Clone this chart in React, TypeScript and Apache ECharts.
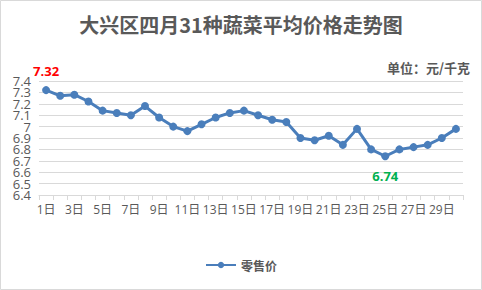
import React, { useEffect, useRef } from "react";
import * as echarts from "echarts";

const days: string[] = Array.from({ length: 30 }, (_, i) => `${i + 1}日`);
const retailPrice: number[] = [
  7.32, 7.27, 7.28, 7.22, 7.14, 7.12, 7.1, 7.18, 7.08, 7.0,
  6.96, 7.02, 7.08, 7.12, 7.14, 7.1, 7.06, 7.04, 6.9, 6.88,
  6.92, 6.84, 6.98, 6.8, 6.74, 6.8, 6.82, 6.84, 6.9, 6.98,
];
const yTicksEven: number[] = [6.4, 6.6, 6.8, 7.0, 7.2, 7.4];
const yTicksOdd: number[] = [6.5, 6.7, 6.9, 7.1, 7.3];
const yMin = 6.4;
const yMax = 7.4;
const titleText = "大兴区四月31种蔬菜平均价格走势图";
const unitText = "单位：元/千克";
const seriesName = "零售价";
const maxIndex = 0;
const minIndex = 24;

const FONT = "'Open Sans', 'Noto Sans CJK SC', sans-serif";

export default function App() {
  const ref = useRef<HTMLDivElement>(null);
  useEffect(() => {
    if (!ref.current) return;
    const chart = echarts.init(ref.current, undefined, { renderer: "svg" });
    const data = retailPrice.map((v, i) => {
      if (i === maxIndex) {
        return {
          value: v,
          label: { show: true, position: "top", distance: 9, color: "#ff0000", fontWeight: "bold", fontSize: 13, fontFamily: FONT, formatter: (p: any) => p.value.toFixed(2) },
        };
      }
      if (i === minIndex) {
        return {
          value: v,
          label: { show: true, position: "bottom", distance: 9, color: "#00b050", fontWeight: "bold", fontSize: 13, fontFamily: FONT, formatter: (p: any) => p.value.toFixed(2) },
        };
      }
      return v;
    });
    const labelBase = {
      color: "#595959",
      fontSize: 13,
      margin: 8,
      formatter: (v: number) => String(+(+v).toFixed(1)),
    };
    chart.setOption({
      animation: false,
      backgroundColor: "#ffffff",
      textStyle: { fontFamily: FONT },
      title: {
        text: titleText,
        left: "center",
        top: 9,
        textStyle: { fontSize: 20, fontWeight: "bold", color: "#595959", fontFamily: "'Noto Sans CJK SC', sans-serif" },
      },
      graphic: [
        {
          type: "rect",
          shape: { x: 0.5, y: 0.5, width: 481, height: 289 },
          style: { fill: "none", stroke: "#d9d9d9", lineWidth: 1 },
          silent: true,
        },
        {
          type: "text",
          right: 12,
          top: 61,
          style: { text: unitText, fontSize: 13, fontWeight: "bold", fill: "#595959", fontFamily: "'Noto Sans CJK SC', sans-serif" },
        },
      ],
      legend: {
        bottom: 14,
        left: "center",
        itemWidth: 30,
        itemHeight: 8,
        textStyle: { color: "#595959", fontSize: 12, fontWeight: "bold", fontFamily: "'Noto Sans CJK SC', sans-serif" },
        data: [seriesName],
      },
      grid: { left: 39, right: 19, top: 81, bottom: 95, containLabel: false },
      xAxis: {
        type: "category",
        data: days,
        boundaryGap: true,
        axisLine: { lineStyle: { color: "#d9d9d9" } },
        axisTick: { show: true, interval: 0, length: 5, lineStyle: { color: "#d9d9d9" } },
        axisLabel: { interval: 1, color: "#595959", fontSize: 12, margin: 8 },
      },
      yAxis: [
        {
          type: "value",
          position: "left",
          min: yMin,
          max: yMax,
          interval: 0.1,
          axisLine: { show: false },
          axisTick: { show: false },
          splitLine: { lineStyle: { color: "#d9d9d9" } },
          axisLabel: { ...labelBase, customValues: yTicksEven, showMinLabel: true, showMaxLabel: true },
        },
        {
          type: "value",
          position: "left",
          offset: 0,
          min: yMin,
          max: yMax,
          interval: 0.1,
          axisLine: { show: false },
          axisTick: { show: false },
          splitLine: { show: false },
          axisLabel: { ...labelBase, customValues: yTicksOdd },
        },
      ],
      series: [
        {
          name: seriesName,
          type: "line",
          yAxisIndex: 0,
          data,
          symbol: "circle",
          symbolSize: 8,
          lineStyle: { color: "#4a7ebb", width: 3 },
          itemStyle: { color: "#4a7ebb" },
        },
      ],
    });
    return () => chart.dispose();
  }, []);
  return <div ref={ref} style={{ position: "fixed", left: 0, top: 0, width: 482, height: 290 }} />;
}
